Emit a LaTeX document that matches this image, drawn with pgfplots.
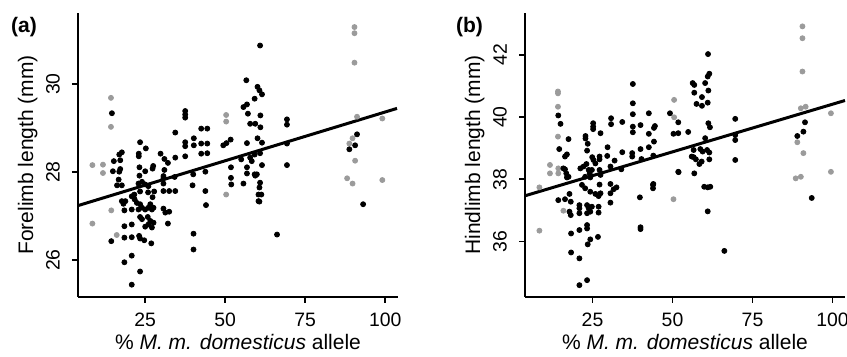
\documentclass[border=0pt]{standalone}
\usepackage{fontspec}
\setmainfont{Liberation Sans}
\usepackage{pgfplots}
\pgfplotsset{compat=1.18}
\definecolor{ptgrey}{RGB}{155,155,155}
\pgfplotsset{
 panel/.style={
  scale only axis, width=160pt, height=142pt,
  axis x line*=bottom, axis y line*=left,
  axis line style={line width=1.3pt, -},
  tick style={line width=0.9pt, black},
  tick align=outside, major tick length=3pt,
  xtick={25,50,75,100},
  xmin=4, xmax=104,
  /pgf/number format/assume math mode=true,
  ticklabel style={font=\fontsize{9.7}{10}\selectfont},
  yticklabel style={rotate=90, anchor=south},
  yticklabel shift=2.5pt, xticklabel shift=1.5pt,
  ylabel shift=-2.5pt, xlabel shift=-3pt,
  label style={font=\fontsize{10.5}{12}\selectfont},
  xlabel={\% \textit{M. m. domesticus} allele},
  clip=false,
 },
 blk/.style={only marks, mark=*, mark size=1.25pt, mark options={draw=black, fill=black}},
 gry/.style={only marks, mark=*, mark size=1.25pt, mark options={draw=ptgrey, fill=ptgrey}},
 fit/.style={black, line width=1.5pt, no marks},
}
\begin{document}
\begin{tikzpicture}
\useasboundingbox (0,0) rectangle (423.5pt,178.5pt);
\begin{axis}[panel, at={(39pt,30pt)}, anchor=south west,
  ymin=25.16, ymax=31.62, ytick={26,28,30},
  ylabel={Forelimb length (mm)}]
\addplot[gry] table {
x y
14.3 29.69
14.3 29.03
50.3 29.30
50.3 29.15
8.5 28.16
11.8 28.17
11.8 27.98
50.3 27.49
14.4 27.13
8.5 26.83
16.1 26.57
90.4 31.30
90.4 31.16
90.4 30.49
91.2 29.26
99.1 29.22
89.8 28.77
88.8 28.65
90.6 28.26
88.1 27.86
89.8 27.74
99.1 27.82
};
\addplot[blk] table {
x y
14.6 29.34
37.5 29.39
37.5 29.31
37.5 29.24
34.4 28.90
42.5 28.99
44.4 28.99
40.2 28.77
40.2 28.61
37.5 28.68
37.5 28.59
37.5 28.36
42.5 28.65
44.4 28.65
42.5 28.42
44.4 28.43
49.4 28.61
50.4 28.66
51.7 28.74
23.4 28.68
25.2 28.54
17.7 28.45
16.9 28.40
23.0 28.42
23.0 28.36
29.8 28.42
31.0 28.30
32.1 28.21
34.4 28.33
15.2 28.25
17.2 28.27
17.2 28.07
14.9 28.02
16.9 28.01
23.2 28.11
23.2 27.92
25.0 28.02
27.5 28.14
27.3 28.08
31.0 28.05
30.7 27.91
34.2 27.89
40.0 27.95
43.8 28.01
51.8 28.11
51.8 27.87
56.8 28.11
56.8 27.97
55.0 28.29
57.8 28.33
58.3 28.25
59.9 27.95
56.8 29.54
55.7 29.48
57.1 29.33
57.8 29.10
59.4 29.10
56.8 28.66
16.2 27.70
17.7 27.70
22.9 27.74
24.0 27.78
25.0 27.72
26.0 27.68
30.7 27.74
30.7 27.86
39.8 27.70
30.7 27.57
32.5 27.57
34.4 27.57
43.8 27.57
51.9 27.72
55.7 27.74
60.4 27.49
60.9 27.76
21.6 27.49
23.4 27.56
25.9 27.54
27.8 27.56
17.7 27.34
18.2 27.28
18.8 27.34
20.8 27.45
21.7 27.38
22.4 27.30
23.4 27.27
24.0 27.19
25.0 27.15
26.0 27.19
26.6 27.27
27.1 27.15
27.6 27.19
27.3 27.43
18.5 27.13
20.8 27.15
22.9 27.15
30.7 27.17
31.3 27.08
32.5 27.10
44.0 27.25
60.4 27.34
23.4 26.98
25.8 26.98
24.0 26.93
18.5 26.77
20.8 26.81
25.0 26.76
26.0 26.81
27.1 26.74
27.6 26.85
26.6 26.89
32.1 26.83
14.4 26.43
18.5 26.51
20.8 26.52
23.1 26.55
23.4 26.49
24.7 26.45
26.9 26.38
40.1 26.60
40.1 26.24
20.8 26.10
18.5 25.95
23.4 25.74
20.8 25.44
60.9 30.88
56.6 30.09
60.1 29.94
60.7 29.86
61.5 29.77
59.2 29.67
61.0 29.29
69.3 29.20
69.3 29.08
61.0 29.02
60.1 28.77
61.5 28.67
69.3 28.65
91.2 28.86
90.6 28.61
88.8 28.52
69.3 28.16
61.5 28.16
59.2 28.40
60.9 28.43
59.2 27.95
93.1 27.27
66.2 26.58
60.7 27.65
61.3 27.49
60.7 27.33
16.7 27.83
59.4 27.92
};
\addplot[fit] coordinates {(4.06,27.24) (103.7,29.45)};
\end{axis}
\node[font=\bfseries\fontsize{10.5}{12}\selectfont, inner sep=0pt] at (12pt,165pt) {(a)};
\begin{axis}[panel, at={(262.5pt,30pt)}, anchor=south west,
  xmin=3.9, xmax=103.9,
  ymin=34.22, ymax=43.34, ytick={36,38,40,42},
  ylabel={Hindlimb length (mm)}]
\addplot[gry] table {
x y
14.2 40.82
14.2 40.76
14.2 40.33
14.2 39.37
11.7 38.46
11.7 38.19
14.3 38.35
14.3 38.19
8.4 37.74
8.4 36.35
15.9 36.99
50.5 40.55
50.5 39.99
50.3 37.36
90.6 42.91
90.6 42.53
90.6 41.46
90.1 40.28
91.6 40.33
99.5 40.12
89.0 39.19
90.9 38.84
88.5 38.03
90.1 38.08
99.5 38.24
};
\addplot[blk] table {
x y
14.3 40.05
15.0 39.78
17.5 39.29
14.6 38.97
17.0 38.80
16.4 38.73
15.9 38.35
16.4 38.32
16.8 38.19
17.5 38.08
17.0 38.06
22.8 39.39
22.8 39.31
23.5 39.14
25.2 39.80
25.2 39.69
25.2 39.61
23.3 38.92
24.9 38.71
25.3 38.62
25.9 38.51
21.2 38.35
22.2 38.41
23.1 38.49
23.8 38.30
24.8 38.30
24.1 38.19
22.7 38.08
24.3 38.06
27.2 38.73
27.2 38.64
27.2 38.30
27.5 38.14
27.5 39.48
29.7 39.03
29.6 38.75
30.8 39.96
30.8 39.77
30.6 38.41
31.9 38.60
34.3 39.84
34.3 38.87
34.0 38.32
37.6 41.06
37.6 40.44
37.6 40.09
37.6 39.69
37.6 39.51
37.4 38.84
37.4 38.73
40.0 39.74
40.0 38.97
40.3 38.65
42.6 40.12
42.6 39.46
42.6 39.03
44.5 39.71
44.2 39.65
44.2 39.21
44.0 38.76
49.2 40.12
51.8 39.83
50.3 39.46
51.8 39.48
54.9 39.52
56.3 41.09
56.8 41.03
56.8 40.78
57.5 40.42
56.6 38.94
56.6 38.71
57.3 38.64
58.4 38.49
51.8 38.24
56.8 38.19
44.0 37.85
61.1 42.02
61.5 41.39
61.0 41.30
60.2 41.09
61.2 40.85
59.2 40.64
59.2 40.36
61.0 40.46
61.2 39.80
61.7 39.67
60.2 39.32
69.6 39.94
69.6 39.42
69.6 39.26
69.6 38.62
58.7 38.97
59.4 38.89
60.8 38.94
61.5 38.86
56.0 38.73
61.5 38.64
59.1 38.57
51.9 38.23
43.9 37.82
43.9 37.71
39.8 37.42
40.0 36.46
40.0 36.40
59.9 37.76
61.0 37.74
61.8 37.76
61.0 36.97
66.2 35.70
93.5 37.40
90.9 39.53
89.0 39.39
91.4 39.83
14.3 37.33
16.4 37.36
17.8 37.53
18.2 37.28
17.8 36.96
18.2 36.85
20.9 37.17
20.9 37.07
20.9 36.91
23.3 37.17
23.8 37.07
23.3 36.91
24.3 36.96
24.8 37.12
26.9 37.12
26.9 36.93
21.7 37.82
22.7 37.71
24.3 37.60
25.9 37.53
26.9 37.46
27.5 37.55
27.2 37.83
30.6 37.85
30.6 37.55
31.6 37.68
32.5 37.74
30.6 37.25
23.3 36.53
23.3 36.42
20.9 36.37
18.3 36.26
26.7 36.15
24.3 36.07
23.5 35.91
18.3 35.65
20.9 35.46
23.3 34.76
20.9 34.60
};
\addplot[fit] coordinates {(3.9,37.47) (103.9,40.53)};
\end{axis}
\node[font=\bfseries\fontsize{10.5}{12}\selectfont, inner sep=0pt] at (234.75pt,165pt) {(b)};
\end{tikzpicture}
\end{document}
